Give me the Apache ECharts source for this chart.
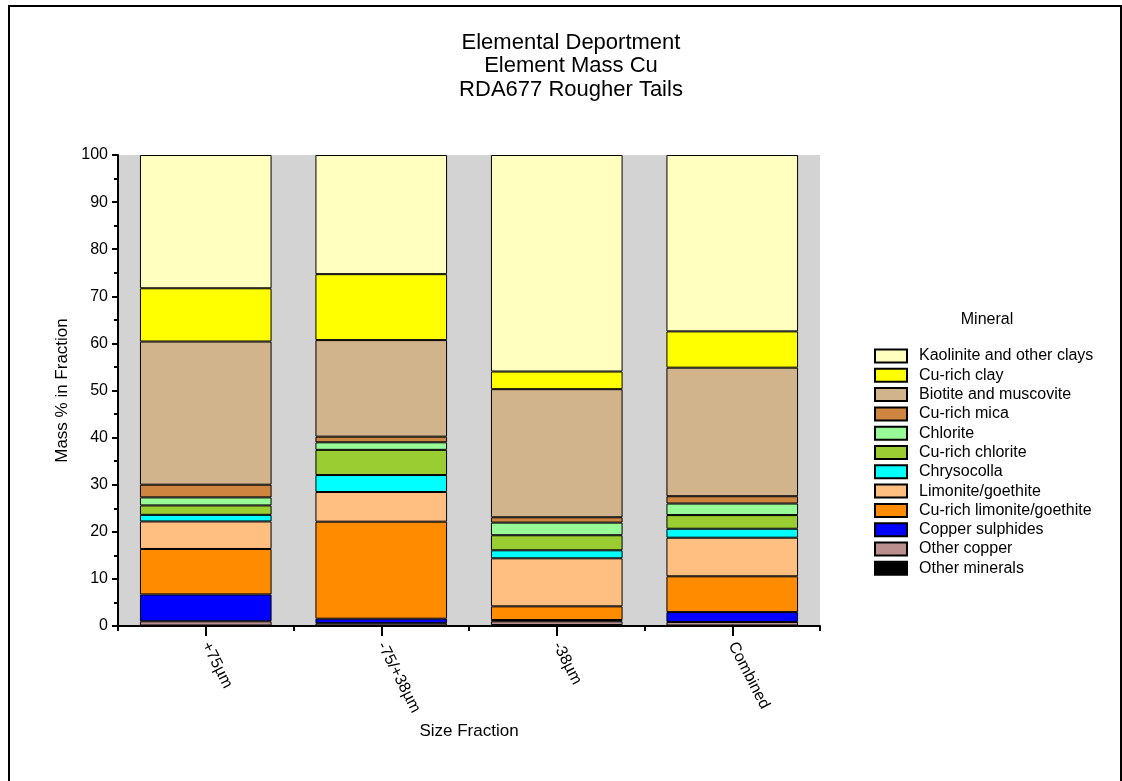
<!DOCTYPE html>
<html>
<head>
<meta charset="utf-8">
<script src="https://cdn.jsdelivr.net/npm/echarts@6/dist/echarts.min.js"></script>
<style>
html,body{margin:0;padding:0;background:#fff;}
#chart{width:1122px;height:781px;}
</style>
</head>
<body>
<div id="chart"></div>
<script>
// Categories (x axis)
const categories = ['+75µm', '-75/+38µm', '-38µm', 'Combined'];
const yTicks = [0, 10, 20, 30, 40, 50, 60, 70, 80, 90, 100];

// Series values (bottom to top of the stack), mass % in fraction
const otherMinerals      = [0.1, 0.1, 0.2, 0.1];
const otherCopper        = [0.9, 0.5, 0.8, 0.75];
const copperSulphides    = [5.7, 0.95, 0.27, 2.1];
const cuRichLimonite     = [9.65, 20.6, 2.9, 7.6];
const limoniteGoethite   = [5.85, 6.3, 10.2, 8.2];
const chrysocolla        = [1.4, 3.6, 1.7, 1.9];
const cuRichChlorite     = [2.0, 5.35, 3.2, 2.9];
const chlorite           = [1.7, 1.6, 2.68, 2.45];
const cuRichMica         = [2.7, 1.2, 1.13, 1.55];
const biotiteMuscovite   = [30.4, 20.5, 27.2, 27.3];
const cuRichClay         = [11.3, 14.0, 3.75, 7.7];
const kaolinite          = [28.3, 25.3, 45.97, 37.45];

const seriesDefs = [
  ['Other minerals', otherMinerals, '#000000'],
  ['Other copper', otherCopper, '#BC8F8F'],
  ['Copper sulphides', copperSulphides, '#0000FF'],
  ['Cu-rich limonite/goethite', cuRichLimonite, '#FF8C00'],
  ['Limonite/goethite', limoniteGoethite, '#FFBF80'],
  ['Chrysocolla', chrysocolla, '#00FFFF'],
  ['Cu-rich chlorite', cuRichChlorite, '#9ACD32'],
  ['Chlorite', chlorite, '#98FB98'],
  ['Cu-rich mica', cuRichMica, '#CD853F'],
  ['Biotite and muscovite', biotiteMuscovite, '#D2B48C'],
  ['Cu-rich clay', cuRichClay, '#FFFF00'],
  ['Kaolinite and other clays', kaolinite, '#FFFFC0']
];

const FONT = '"Liberation Sans", Arial, sans-serif';

const chart = echarts.init(document.getElementById('chart'), null, {renderer: 'canvas'});

const series = seriesDefs.map(([name, data, color]) => ({
  name: name,
  type: 'bar',
  stack: 'total',
  xAxisIndex: 0,
  yAxisIndex: 0,
  barWidth: '75%',
  data: data,
  itemStyle: {color: color, borderColor: '#000', borderWidth: 1},
  emphasis: {disabled: true},
  animation: false
}));

const option = {
  animation: false,
  backgroundColor: '#fff',
  title: [
    {
      text: 'Elemental Deportment\nElement Mass Cu\nRDA677 Rougher Tails',
      left: 566, top: 26, textAlign: 'center',
      textStyle: {fontFamily: FONT, fontSize: 22, fontWeight: 'normal', color: '#000', lineHeight: 23.5}
    },
    {
      text: 'Mineral',
      left: 982, top: 307, textAlign: 'center',
      textStyle: {fontFamily: FONT, fontSize: 16, fontWeight: 'normal', color: '#000'}
    }
  ],
  graphic: [
    {
      type: 'rect', silent: true,
      shape: {x: 9, y: 6, width: 1112, height: 800},
      style: {fill: 'none', stroke: '#000', lineWidth: 2}
    }
  ],
  legend: {
    orient: 'vertical',
    left: 874, top: 348, padding: 0,
    icon: 'rect',
    itemWidth: 32, itemHeight: 13, itemGap: 3.3,
    data: seriesDefs.map(d => d[0]).reverse(),
    textStyle: {fontFamily: FONT, fontSize: 16, color: '#000', lineHeight: 14, padding: [0, 0, 0, 7]},
    selectedMode: false
  },
  grid: {
    left: 118, right: 302, top: 155, bottom: 155,
    show: true, backgroundColor: '#D3D3D3', borderWidth: 0,
    containLabel: false
  },
  xAxis: [
    {
      type: 'category',
      data: categories,
      name: 'Size Fraction',
      nameLocation: 'middle',
      nameGap: 96,
      nameTextStyle: {fontFamily: FONT, fontSize: 17, color: '#000'},
      axisLine: {show: true, lineStyle: {color: '#000', width: 2}},
      axisTick: {show: true, alignWithLabel: true, length: 10, lineStyle: {color: '#000', width: 2}},
      axisLabel: {rotate: -63, margin: 17, fontFamily: FONT, fontSize: 16, color: '#000'},
      splitLine: {show: false}
    },
    {
      type: 'category',
      data: categories,
      position: 'bottom',
      axisLine: {show: false},
      axisTick: {show: true, alignWithLabel: false, length: 5, lineStyle: {color: '#000', width: 2}},
      axisLabel: {show: false},
      splitLine: {show: false}
    }
  ],
  yAxis: {
    type: 'value',
    min: yTicks[0], max: yTicks[yTicks.length - 1], interval: 10,
    name: 'Mass % in Fraction',
    nameLocation: 'middle',
    nameGap: 38,
    nameTextStyle: {fontFamily: FONT, fontSize: 17, color: '#000'},
    axisLine: {show: true, lineStyle: {color: '#000', width: 2}},
    axisTick: {show: true, length: 6, lineStyle: {color: '#000', width: 2}},
    minorTick: {show: true, splitNumber: 2, length: 4, lineStyle: {color: '#000', width: 2}},
    axisLabel: {fontFamily: FONT, fontSize: 16, color: '#000', margin: 10},
    splitLine: {show: false}
  },
  series: series
};

chart.setOption(option);
</script>
</body>
</html>
